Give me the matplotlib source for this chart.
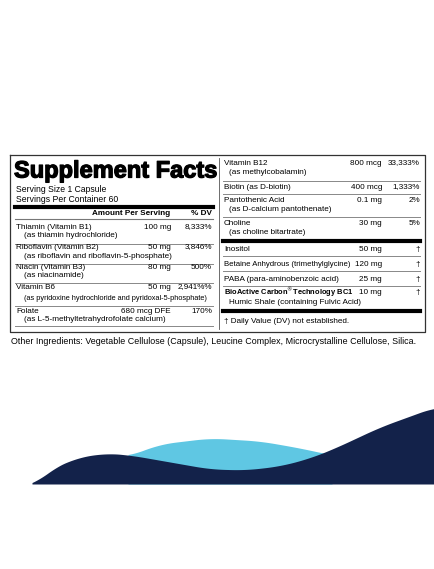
import numpy as np
import matplotlib.pyplot as plt
import matplotlib.patheffects as pe

plt.rcParams['font.family'] = ['Liberation Sans', 'DejaVu Sans']

# left column rows: name, sub, amount, dv
left_names = ["Thiamin (Vitamin B1)", "Riboflavin (Vitamin B2)", "Niacin (Vitamin B3)", "Vitamin B6", "Folate"]
left_subs = ["(as thiamin hydrochloride)", "(as riboflavin and riboflavin-5-phosphate)", "(as niacinamide)",
             "(as pyridoxine hydrochloride and pyridoxal-5-phosphate)", "(as L-5-methyltetrahydrofolate calcium)"]
left_amts = ["100 mg", "50 mg", "80 mg", "50 mg", "680 mcg DFE"]
left_dvs = ["8,333%", "3,846%", "500%", "2,941%%", "170%"]
left_y = [227, 247, 267, 287, 311]
left_sub_y = [235, 256, 275, 298, 319]
left_lines = [244, 264, 283, 306, 326]

right_names = ["Vitamin B12", "Biotin (as D-biotin)", "Pantothenic Acid", "Choline"]
right_subs = ["(as methylcobalamin)", "", "(as D-calcium pantothenate)", "(as choline bitartrate)"]
right_amts = ["800 mcg", "400 mcg", "0.1 mg", "30 mg"]
right_dvs = ["33,333%", "1,333%", "2%", "5%"]
right_y = [163, 187, 200, 223]
right_lines = [181, 194, 217]

other_names = ["Inositol", "Betaine Anhydrous (trimethylglycine)", "PABA (para-aminobenzoic acid)"]
other_amts = ["50 mg", "120 mg", "25 mg"]
other_y = [249, 264, 279]
other_lines = [256, 271, 286]

fig = plt.figure(figsize=(4.35, 5.69), dpi=100)
ax = fig.add_axes([0, 0, 1, 1])
ax.set_xlim(0, 435)
ax.set_ylim(569, 0)
ax.axis('off')

fs = 5.9
# outer box and divider
ax.plot([10, 425, 425, 10, 10], [155, 155, 332, 332, 155], color='#333333', lw=0.9)
ax.plot([219, 219], [158, 329], color='#555555', lw=0.6)

ax.text(14, 171, "Supplement Facts", fontsize=17, fontweight='bold', va='center', ha='left',
        path_effects=[pe.withStroke(linewidth=0.9, foreground='black')])
ax.text(16, 189, "Serving Size 1 Capsule", fontsize=fs + 0.3, va='center')
ax.text(16, 199, "Servings Per Container 60", fontsize=fs + 0.3, va='center')
ax.plot([15, 213], [207, 207], color='black', lw=3)
ax.text(170, 213, "Amount Per Serving", fontsize=fs, fontweight='bold', ha='right', va='center')
ax.text(212, 213, "% DV", fontsize=fs, fontweight='bold', ha='right', va='center')
ax.plot([15, 213], [219, 219], color='#777777', lw=0.8)

for n, s, a, d, y, sy, ly in zip(left_names, left_subs, left_amts, left_dvs, left_y, left_sub_y, left_lines):
    ax.text(16, y, n, fontsize=fs, va='center')
    ax.text(24, sy, s, fontsize=fs if len(s) < 45 else 5.3, va='center')
    ax.text(171, y, a, fontsize=fs, va='center', ha='right')
    ax.text(212, y, d, fontsize=fs, va='center', ha='right')
    ax.plot([15, 213], [ly, ly], color='#888888', lw=0.7)

for i, (n, s, a, d, y) in enumerate(zip(right_names, right_subs, right_amts, right_dvs, right_y)):
    ax.text(224, y, n, fontsize=fs, va='center')
    if s:
        ax.text(229, y + 9, s, fontsize=fs, va='center')
    ax.text(382, y, a, fontsize=fs, va='center', ha='right')
    ax.text(420, y, d, fontsize=fs, va='center', ha='right')
    if i < len(right_lines):
        ax.plot([223, 420], [right_lines[i]] * 2, color='#888888', lw=0.7)
ax.plot([223, 420], [241, 241], color='black', lw=3)

for n, a, y, ly in zip(other_names, other_amts, other_y, other_lines):
    ax.text(224, y, n, fontsize=fs if len(n) < 33 else 5.6, va='center')
    ax.text(382, y, a, fontsize=fs, va='center', ha='right')
    ax.text(420, y, "†", fontsize=fs, va='center', ha='right')
    ax.plot([223, 420], [ly, ly], color='#888888', lw=0.7)

ax.text(224, 292, "BioActive Carbon$^{®}$Technology BC1", fontsize=5.4, fontweight='bold', va='center')
ax.text(382, 292, "10 mg", fontsize=fs, va='center', ha='right')
ax.text(420, 292, "†", fontsize=fs, va='center', ha='right')
ax.text(229, 302, "Humic Shale (containing Fulvic Acid)", fontsize=fs, va='center')
ax.plot([223, 420], [311, 311], color='black', lw=3)
ax.text(224, 321, "† Daily Value (DV) not established.", fontsize=fs, va='center')

ax.text(11, 341, "Other Ingredients: Vegetable Cellulose (Capsule), Leucine Complex, Microcrystalline Cellulose, Silica.",
        fontsize=6.4, va='center')

# decorative waves
def smooth(xs, px, py, k=15):
    y = np.interp(xs, px, py)
    pad = np.pad(y, k, mode='edge')
    return np.convolve(pad, np.ones(2 * k + 1) / (2 * k + 1), mode='same')[k:-k]

lx = np.array([128, 160, 210, 260, 300, 332])
ly = np.array([456, 444, 438, 441, 448, 455])
xs = np.linspace(128, 332, 200)
ax.fill_between(xs, smooth(xs, lx, ly), 484, color='#5fc7e3', lw=0)
dx = np.array([32, 50, 75, 105, 130, 170, 210, 245, 280, 310, 335, 380, 435])
dy = np.array([486, 470, 458, 453, 455, 462, 469, 470, 466, 458, 448, 427, 407])
xs = np.linspace(32, 435, 400)
ax.fill_between(xs, smooth(xs, dx, dy), 484, color='#13224a', lw=0)

fig.savefig('out.png', dpi=100)
